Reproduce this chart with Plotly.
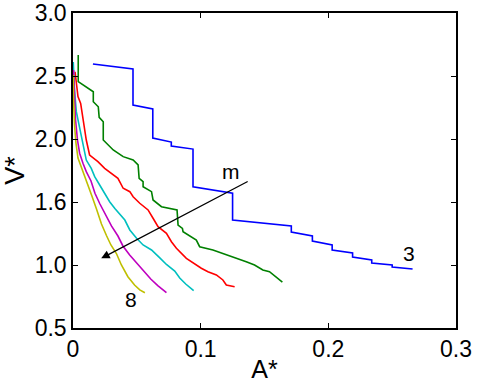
import plotly.graph_objects as go

# curves m = 3 ... 8 (A*, V*)
a_m3 = [0.0156, 0.047, 0.047, 0.0625, 0.0625, 0.077, 0.077, 0.094, 0.094, 0.125, 0.125,
        0.171, 0.171, 0.1875, 0.1875, 0.203, 0.203, 0.219, 0.219, 0.234, 0.234, 0.25, 0.25, 0.266]
v_m3 = [2.595, 2.556, 2.27, 2.238, 2.008, 1.976, 1.944, 1.92, 1.62, 1.57, 1.357,
        1.31, 1.262, 1.23, 1.19, 1.159, 1.119, 1.095, 1.063, 1.04, 1.016, 1.0, 0.984, 0.968]

a_m4 = [0.0041, 0.0041, 0.0159, 0.0159, 0.0198, 0.0205, 0.0237, 0.0237, 0.0315, 0.0393,
        0.0471, 0.051, 0.0518, 0.0549, 0.0549, 0.0615, 0.0627, 0.0693, 0.0815, 0.0823,
        0.0857, 0.0862, 0.0966, 0.0992, 0.1096, 0.1252, 0.1357, 0.1422, 0.1487, 0.1539, 0.164]
v_m4 = [2.667, 2.455, 2.375, 2.296, 2.256, 2.172, 2.137, 1.992, 1.913, 1.86,
        1.833, 1.794, 1.688, 1.661, 1.621, 1.582, 1.516, 1.463, 1.437, 1.317,
        1.291, 1.264, 1.198, 1.145, 1.119, 1.066, 1.026, 1.0, 0.96, 0.947, 0.865]

a_m5 = [0.0016, 0.0026, 0.0039, 0.006, 0.0078, 0.0104, 0.013, 0.0195, 0.0248, 0.0299,
        0.0352, 0.0393, 0.0445, 0.0471, 0.0523, 0.0588, 0.0615, 0.0627, 0.0666, 0.0732,
        0.0771, 0.081, 0.0888, 0.0927, 0.1005, 0.1057, 0.1123, 0.1174, 0.1201, 0.1266]
v_m5 = [2.534, 2.442, 2.336, 2.283, 2.151, 1.992, 1.873, 1.82, 1.767, 1.728,
        1.688, 1.609, 1.582, 1.542, 1.49, 1.437, 1.397, 1.371, 1.304, 1.252,
        1.185, 1.133, 1.053, 1.026, 0.974, 0.947, 0.921, 0.881, 0.841, 0.828]

a_m6 = [0.0002, 0.0012, 0.0026, 0.0052, 0.0078, 0.0104, 0.0143, 0.017, 0.0209, 0.0248,
        0.0287, 0.0328, 0.0367, 0.0406, 0.0445, 0.0498, 0.0549, 0.0615, 0.068, 0.0732,
        0.0797, 0.0836, 0.0883, 0.0945]
v_m6 = [2.611, 2.389, 2.217, 2.098, 1.952, 1.833, 1.767, 1.701, 1.635, 1.569,
        1.502, 1.448, 1.405, 1.357, 1.278, 1.212, 1.159, 1.119, 1.056, 1.004,
        0.952, 0.897, 0.849, 0.796]

a_m7 = [0.0004, 0.0012, 0.002, 0.0035, 0.0052, 0.0078, 0.0104, 0.0141, 0.0172, 0.0211,
        0.0258, 0.0301, 0.0352, 0.0391, 0.0444, 0.05, 0.0555, 0.0609, 0.0664, 0.0732]
v_m7 = [2.548, 2.31, 2.151, 1.992, 1.887, 1.807, 1.741, 1.667, 1.569, 1.484,
        1.389, 1.31, 1.23, 1.151, 1.079, 1.016, 0.952, 0.889, 0.837, 0.78]

a_m8 = [0.0002, 0.0004, 0.0012, 0.0023, 0.0039, 0.0078, 0.0117, 0.0148, 0.0184, 0.0223,
        0.0262, 0.0297, 0.034, 0.0379, 0.043, 0.0482, 0.0523, 0.0563]
v_m8 = [2.508, 2.31, 2.111, 1.968, 1.849, 1.741, 1.648, 1.548, 1.444, 1.325,
        1.234, 1.159, 1.091, 1.0, 0.907, 0.841, 0.802, 0.78]

y_tickvals = [0.5, 1.0, 1.5, 2.0, 2.5, 3.0]
y_ticktext = ["0.5", "1.0", "1.6", "2.0", "2.5", "3.0"]
x_tickvals = [0, 0.1, 0.2, 0.3]
x_ticktext = ["0", "0.1", "0.2", "0.3"]

curves = [
    (a_m3, v_m3, "rgb(0,0,255)"),
    (a_m4, v_m4, "rgb(0,128,0)"),
    (a_m5, v_m5, "rgb(255,0,0)"),
    (a_m6, v_m6, "rgb(0,191,191)"),
    (a_m7, v_m7, "rgb(191,0,191)"),
    (a_m8, v_m8, "rgb(191,191,0)"),
]

fig = go.Figure()
for a, v, c in curves:
    fig.add_trace(go.Scatter(x=a, y=v, mode="lines", line=dict(color=c, width=1.6),
                             showlegend=False, hoverinfo="skip"))

font = dict(family="Liberation Sans, Arial, sans-serif", color="black")

# arrow showing increasing m
fig.add_annotation(x=0.0221, y=1.053, ax=0.138, ay=1.669, axref="x", ayref="y",
                   text="", showarrow=True, arrowhead=2, arrowsize=1.3,
                   arrowwidth=1.3, arrowcolor="black")
fig.add_annotation(x=0.124, y=1.745, text="m", showarrow=False, font=dict(size=21, **font))
fig.add_annotation(x=0.2628, y=1.09, text="3", showarrow=False, font=dict(size=21, **font))
fig.add_annotation(x=0.0458, y=0.725, text="8", showarrow=False, font=dict(size=21, **font))

axis_style = dict(showgrid=False, zeroline=False, showline=True, linecolor="black",
                  linewidth=1.5, mirror="ticks", ticks="inside", ticklen=5,
                  tickcolor="black", tickwidth=1, automargin=False,
                  ticklabeloverflow="allow", tickfont=dict(size=23, **font))

fig.update_layout(
    width=479, height=383,
    margin=dict(l=73, r=23, t=13, b=55),
    plot_bgcolor="white", paper_bgcolor="white",
    xaxis=dict(range=[0, 0.3], tickvals=x_tickvals, ticktext=x_ticktext,
               title=dict(text="A*", font=dict(size=25, **font), standoff=0), **axis_style),
    yaxis=dict(range=[0.5, 3.0], tickvals=y_tickvals, ticktext=y_ticktext,
               title=dict(text="V*", font=dict(size=27, **font), standoff=6), **axis_style),
)

# drop the page's default body margin so the figure sits at the window corner
fig.write_html("out.html", config={"displayModeBar": False},
               post_script="document.body.style.margin='0';")
